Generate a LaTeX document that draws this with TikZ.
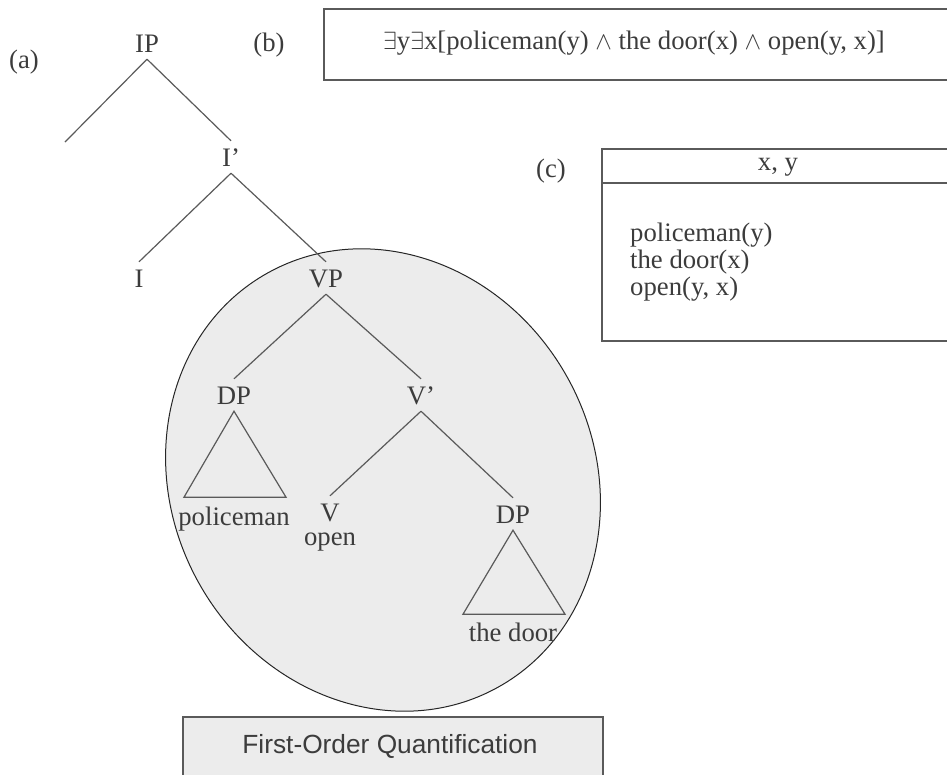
\documentclass[tikz,border=0pt]{standalone}
\usepackage{fontspec}
\setmainfont{Liberation Serif}
\newfontfamily\captionsans{Liberation Sans}
\definecolor{inkgray}{HTML}{3C3C3C}
\definecolor{edgegray}{HTML}{5A5A5A}
\definecolor{fillgray}{HTML}{ECECEC}
\tikzstyle{cat}=[inner xsep=2pt, inner ysep=7pt, text height=18pt, text depth=0pt]
\tikzstyle{word}=[anchor=base, inner sep=0pt]
\tikzstyle{branch}=[edgegray, line width=1.2pt]
\tikzstyle{frame}=[draw=edgegray, line width=1.7pt]

\begin{document}
\begin{tikzpicture}[x=1pt, y=-1pt, font=\fontsize{26.7}{30}\selectfont, text=inkgray]
\clip (0,0) rectangle (947,774);
% Region of first-order quantification
    \filldraw[fill=fillgray, draw=black!85, line width=1pt, rotate around={29:(383,480)}]
        (383,480) ellipse [x radius=211, y radius=237];
    \node[frame, fill=fillgray, anchor=north west, minimum width=420, minimum height=80] (foqbox) at (182,716) {};
    \node[word, font=\captionsans\fontsize{26.3}{30}\selectfont] (foq) at (390,753) {First-Order Quantification};
% Labels
    \node (taga) at (24,62) {(a)};
    \node (tagb) at (269,45) {(b)};
    \node (tagc) at (551,171) {(c)};
% Tree
    \node[cat] (ip) at (147,43) {IP};
    \coordinate (ipspec) at (65,142);
    \node[cat] (ibar) at (231,157) {I'};
    \node[cat] (i) at (139,278) {I};
    \node[cat] (vp) at (326,278) {VP};
    \node[cat] (dpsubj) at (234,395) {DP};
    \node[cat] (vbar) at (421,395) {V'};
    \node[cat] (v) at (330,512) {V};
    \node[cat] (dpobj) at (513,514) {DP};
    \node[word] (policeman) at (234,525) {policeman};
    \node[word] (open) at (330,545) {open};
    \node[word] (thedoor) at (513,641) {the door};
    \draw[branch] (ip.south) -- (ipspec);
    \draw[branch] (ip.south) -- (ibar.north);
    \draw[branch] (ibar.south) -- (i.north);
    \draw[branch] (ibar.south) -- (vp.north);
    \draw[branch] (vp.south) -- (dpsubj.north);
    \draw[branch] (vp.south) -- (vbar.north);
    \draw[branch] (vbar.south) -- (v.north);
    \draw[branch] (vbar.south) -- (dpobj.north);
    \draw[branch] (dpsubj.south) -- ++(-50,86) -- ++(102,0) -- cycle;
    \draw[branch] (dpobj.south) -- ++(-50,84) -- ++(102,0) -- cycle;
% Formula
    \node[frame, anchor=north west, minimum width=640, minimum height=71] (folbox) at (323,8) {};
    \node (fol) at (634,43) {$\exists$y$\exists$x[policeman(y) $\wedge$ the door(x) $\wedge$ open(y, x)]};
% DRS
    \node[frame, anchor=north west, minimum width=360, minimum height=192] (drs) at (601,148) {};
    \draw[frame] ([yshift=-35pt]drs.north west) -- ([yshift=-35pt]drs.north east);
    \node (drsrefs) at (778,167) {x, y};
    \node[word, anchor=base west] (cond1) at (630,241) {policeman(y)};
    \node[word, anchor=base west] (cond2) at (630,268) {the door(x)};
    \node[word, anchor=base west] (cond3) at (630,295) {open(y, x)};
\end{tikzpicture}
\end{document}
